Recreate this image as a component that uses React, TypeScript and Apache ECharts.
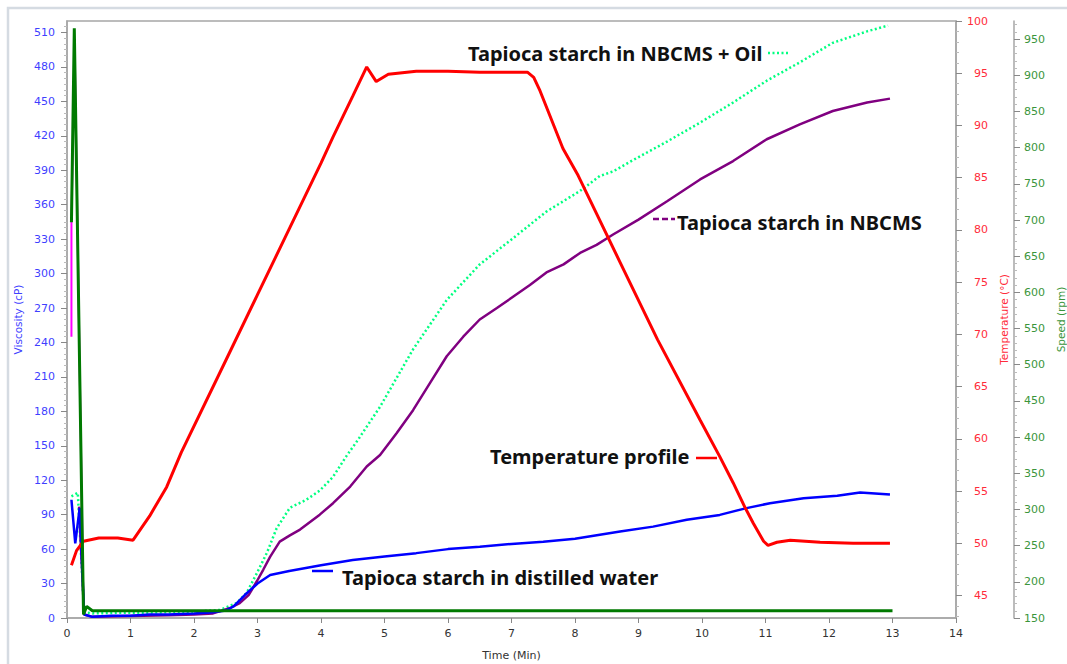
import React, { useEffect, useRef } from "react";
import * as echarts from "echarts";

// ---- tick labels ----
const timeTicks = [0, 1, 2, 3, 4, 5, 6, 7, 8, 9, 10, 11, 12, 13, 14];
const viscosityTicks = [0, 30, 60, 90, 120, 150, 180, 210, 240, 270, 300, 330, 360, 390, 420, 450, 480, 510];
const temperatureTicks = [45, 50, 55, 60, 65, 70, 75, 80, 85, 90, 95, 100];
const temperatureMinorTicks = [43, 44, 46, 47, 48, 49, 51, 52, 53, 54, 56, 57, 58, 59, 61, 62, 63, 64, 66, 67, 68, 69, 71, 72, 73, 74, 76, 77, 78, 79, 81, 82, 83, 84, 86, 87, 88, 89, 91, 92, 93, 94, 96, 97, 98, 99];
const speedTicks = [150, 200, 250, 300, 350, 400, 450, 500, 550, 600, 650, 700, 750, 800, 850, 900, 950];

// ---- Tapioca starch in distilled water (viscosity, cP) ----
const waterTime = [0.07, 0.13, 0.2, 0.27, 0.4, 0.7, 1.0, 1.3, 1.6, 2.0, 2.3, 2.5, 2.62, 2.8, 3.0, 3.2, 3.5, 4.0, 4.5, 5.0, 5.5, 6.0, 6.5, 7.0, 7.5, 8.0, 8.71, 9.23, 9.76, 10.28, 10.7, 11.07, 11.6, 12.13, 12.49, 12.96];
const waterViscosity = [103, 65, 96, 3, 1, 2, 2, 3, 3, 4, 5, 6.5, 10, 20, 30, 37.5, 41, 46, 50.5, 53.5, 56.5, 60, 62, 64.5, 66.5, 69, 75.3, 79.6, 85.5, 89.8, 95.7, 100, 104.4, 106.4, 109.3, 107.5];

// ---- Tapioca starch in NBCMS (viscosity, cP) ----
const nbcmsTime = [0.19, 0.27, 0.4, 0.8, 1.2, 1.6, 2.0, 2.3, 2.57, 2.72, 2.86, 2.99, 3.09, 3.2, 3.35, 3.51, 3.67, 3.98, 4.19, 4.46, 4.72, 4.93, 5.19, 5.45, 5.72, 5.98, 6.24, 6.5, 6.77, 7.03, 7.29, 7.55, 7.82, 8.08, 8.34, 8.6, 9.0, 9.45, 9.97, 10.49, 11.02, 11.54, 12.06, 12.6, 12.96];
const nbcmsViscosity = [97, 3, 1, 1.5, 2, 2.5, 3, 4, 8.7, 13, 20, 32, 42, 53.5, 66.5, 72, 77, 90, 100, 114.5, 132, 142, 161, 181, 205, 228, 245, 260, 270, 280, 290, 301, 308, 318, 325, 334, 347, 363, 382, 398, 417, 430, 441.6, 449, 452.4];

// ---- initial trace (magenta) ----
const startTime = [0.07, 0.07, 0.12, 0.26];
const startViscosity = [245, 345, 500, 5];

// ---- Tapioca starch in NBCMS + Oil (viscosity, cP) ----
const oilTime = [0.07, 0.17, 0.27, 0.4, 0.8, 1.2, 1.6, 2.0, 2.41, 2.67, 2.83, 2.99, 3.15, 3.3, 3.51, 3.77, 3.98, 4.19, 4.4, 4.58, 4.93, 5.45, 5.98, 6.5, 7.03, 7.55, 8.08, 8.39, 8.6, 8.92, 9.45, 9.97, 10.49, 11.02, 11.54, 12.06, 12.6, 12.93];
const oilViscosity = [106, 109, 5, 4, 4.5, 4.5, 5, 5.5, 7, 13, 22, 39, 57, 78, 96, 103, 111, 123, 141, 155, 184, 234, 277, 308, 331, 354, 372, 385, 389, 399, 415, 431.5, 449, 468, 484, 501, 511, 516];

// ---- Temperature profile (°C) ----
const tempTime = [0.07, 0.15, 0.26, 0.5, 0.8, 1.04, 1.3, 1.57, 1.8, 2.5, 3.0, 3.5, 4.0, 4.19, 4.5, 4.72, 4.87, 5.06, 5.5, 6.0, 6.5, 7.0, 7.25, 7.35, 7.45, 7.81, 8.05, 8.71, 9.3, 9.97, 10.28, 10.49, 10.68, 10.81, 10.97, 11.04, 11.18, 11.39, 11.86, 12.38, 12.96];
const temperature = [47.9, 49.3, 50.2, 50.5, 50.5, 50.3, 52.6, 55.4, 58.7, 67.5, 73.8, 80.1, 86.4, 88.9, 92.8, 95.6, 94.2, 94.9, 95.2, 95.2, 95.1, 95.1, 95.1, 94.6, 93.3, 87.8, 85.2, 76.9, 69.5, 61.8, 58.3, 55.8, 53.4, 51.9, 50.2, 49.8, 50.1, 50.3, 50.1, 50.0, 50.0];

// ---- Speed (rpm) ----
const speedTime = [0.07, 0.115, 0.26, 0.31, 0.4, 13.0];
const speed = [697, 965, 155, 166, 160, 160];

const pairs = (ts: number[], vs: number[]) => ts.map((t, i) => [t, vs[i]]);

const TICK_FONT = "DejaVu Sans";
const NOTE_FONT = 'bold 20px "Noto Sans"';
const BLUE_TXT = "#3f3fff";
const RED_TXT = "#ff2b3a";
const GREEN_TXT = "#3b953b";
const AXIS_GRAY = "#a6a6a6";

export default function App() {
  const ref = useRef<HTMLDivElement>(null);
  useEffect(() => {
    document.body.style.margin = "0";
    if (!ref.current) return;
    const chart = echarts.init(ref.current, undefined, { renderer: "svg" });
    const note = (text: string, x: number, y: number) => ({
      type: "text",
      x,
      y,
      style: { text, font: NOTE_FONT, fill: "#111", textAlign: "left", textVerticalAlign: "middle", align: "left", verticalAlign: "middle" },
      z: 100,
    });
    const seg = (x1: number, x2: number, y: number, stroke: string, dash?: number[]) => ({
      type: "line",
      shape: { x1, y1: y, x2, y2: y },
      style: { stroke, lineWidth: 2.5, lineDash: dash },
      z: 100,
    });
    chart.setOption({
      animation: false,
      backgroundColor: "#fff",
      grid: {
        left: 67,
        top: 21,
        right: 111,
        bottom: 46,
        show: true,
        borderColor: AXIS_GRAY,
        borderWidth: 1.5,
        containLabel: false,
        outerBoundsMode: "none",
      },
      xAxis: {
        type: "value",
        min: 0,
        max: 14,
        interval: 1,
        axisLine: { show: true, lineStyle: { color: AXIS_GRAY, width: 1.5 } },
        axisTick: { show: true, length: 5, lineStyle: { color: "#888" } },
        axisLabel: { color: "#333", fontFamily: TICK_FONT, fontSize: 11, margin: 10, customValues: timeTicks },
        splitLine: { show: false },
        name: "Time (Min)",
        nameLocation: "middle",
        nameGap: 32,
        nameTextStyle: { color: "#333", fontFamily: TICK_FONT, fontSize: 11 },
      },
      yAxis: [
        {
          type: "value",
          position: "left",
          min: 0,
          max: 520,
          interval: 30,
          axisLine: { show: true, lineStyle: { color: AXIS_GRAY, width: 1.5 } },
          axisTick: { show: true, length: 6, lineStyle: { color: "#888" }, customValues: viscosityTicks },
          minorTick: { show: true, splitNumber: 6, length: 3, lineStyle: { color: "#bbb" } },
          axisLabel: { color: BLUE_TXT, fontFamily: TICK_FONT, fontSize: 11, margin: 12, customValues: viscosityTicks },
          splitLine: { show: false },
          name: "Viscosity (cP)",
          nameLocation: "middle",
          nameGap: 40,
          nameTextStyle: { color: BLUE_TXT, fontFamily: TICK_FONT, fontSize: 10.5 },
        },
        {
          type: "value",
          position: "right",
          offset: 0,
          min: 42.85,
          max: 100,
          axisLine: { show: true, lineStyle: { color: AXIS_GRAY, width: 1.5 } },
          axisTick: { show: true, length: 6, lineStyle: { color: "#888" }, customValues: temperatureTicks },
          axisLabel: { color: RED_TXT, fontFamily: TICK_FONT, fontSize: 11, margin: 32, align: "right", customValues: temperatureTicks },
          splitLine: { show: false },
          name: "Temperature (°C)",
          nameLocation: "middle",
          nameGap: 38,
          nameTextStyle: { color: RED_TXT, fontFamily: TICK_FONT, fontSize: 10.5 },
        },
        {
          type: "value",
          position: "right",
          offset: 0,
          min: 42.85,
          max: 100,
          axisLine: { show: false },
          axisTick: { show: true, length: 3, lineStyle: { color: "#bbb" }, customValues: temperatureMinorTicks },
          axisLabel: { show: false, customValues: temperatureMinorTicks },
          splitLine: { show: false },
        },
        {
          type: "value",
          position: "right",
          offset: 58,
          min: 150,
          max: 975,
          interval: 50,
          axisLine: { show: true, lineStyle: { color: AXIS_GRAY, width: 1.5 } },
          axisTick: { show: true, length: 6, lineStyle: { color: "#888" }, customValues: speedTicks },
          minorTick: { show: true, splitNumber: 5, length: 3, lineStyle: { color: "#bbb" } },
          axisLabel: { color: GREEN_TXT, fontFamily: TICK_FONT, fontSize: 11, margin: 10, customValues: speedTicks },
          splitLine: { show: false },
          name: "Speed (rpm)",
          nameLocation: "middle",
          nameGap: 38,
          nameTextStyle: { color: GREEN_TXT, fontFamily: TICK_FONT, fontSize: 10.5 },
        },
      ],
      series: [
        {
          name: "Initial trace",
          type: "line",
          yAxisIndex: 0,
          data: pairs(startTime, startViscosity),
          showSymbol: false,
          lineStyle: { color: "#ff00ff", width: 2 },
          itemStyle: { color: "#ff00ff" },
        },
        {
          name: "Tapioca starch in NBCMS + Oil",
          type: "line",
          yAxisIndex: 0,
          data: pairs(oilTime, oilViscosity),
          showSymbol: false,
          lineStyle: { color: "#00ff80", width: 2.5, type: [2, 2.5] },
          itemStyle: { color: "#00ff80" },
        },
        {
          name: "Tapioca starch in NBCMS",
          type: "line",
          yAxisIndex: 0,
          data: pairs(nbcmsTime, nbcmsViscosity),
          showSymbol: false,
          lineStyle: { color: "#800080", width: 2.5 },
          itemStyle: { color: "#800080" },
        },
        {
          name: "Tapioca starch in distilled water",
          type: "line",
          yAxisIndex: 0,
          data: pairs(waterTime, waterViscosity),
          showSymbol: false,
          lineStyle: { color: "#0000ff", width: 2.5 },
          itemStyle: { color: "#0000ff" },
        },
        {
          name: "Temperature profile",
          type: "line",
          yAxisIndex: 1,
          data: pairs(tempTime, temperature),
          showSymbol: false,
          lineStyle: { color: "#ff0000", width: 3 },
          itemStyle: { color: "#ff0000" },
        },
        {
          name: "Speed",
          type: "line",
          yAxisIndex: 3,
          data: pairs(speedTime, speed),
          showSymbol: false,
          lineStyle: { color: "#007a00", width: 3 },
          itemStyle: { color: "#007a00" },
        },
      ],
      graphic: [
        {
          type: "rect",
          shape: { x: 8, y: 8, width: 1080, height: 680 },
          style: { fill: "none", stroke: "#d5dbe2", lineWidth: 2.5 },
          z: -1,
          silent: true,
        },
        note("Tapioca starch in NBCMS + Oil", 468, 53),
        seg(768, 788, 53, "#00ff80", [2, 2.5]),
        note("Tapioca starch in NBCMS", 677, 222),
        seg(653, 675, 219, "#800080", [6, 3]),
        note("Temperature profile", 490, 456),
        seg(696, 717, 458, "#ff0000"),
        note("Tapioca starch in distilled water", 342, 577),
        seg(312, 333, 571, "#0000ff"),
      ],
    });
    return () => chart.dispose();
  }, []);
  return <div ref={ref} style={{ width: 1067, height: 664 }} />;
}
